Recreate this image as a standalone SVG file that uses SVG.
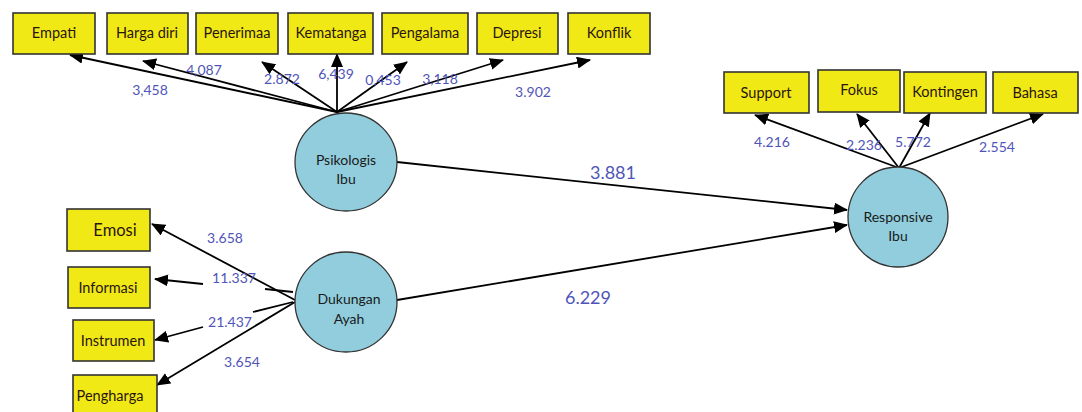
<svg xmlns="http://www.w3.org/2000/svg" width="1082" height="412" viewBox="0 0 1082 412">
<defs>
<marker id="ah" viewBox="0 0 14 12" refX="13" refY="6" markerWidth="14" markerHeight="12" markerUnits="userSpaceOnUse" orient="auto">
<path d="M0,0 L14,6 L0,12 Z" fill="#000"/>
</marker>
<style>
.box{fill:#F1E915;stroke:#333;stroke-width:1.6}
.circ{fill:#91CDDC;stroke:#333;stroke-width:1.3}
.bt{font-family:Lato,"Open Sans","Liberation Sans",sans-serif;font-size:14.5px;fill:#2a1510;text-anchor:middle}
.ct{font-family:Lato,"Open Sans","Liberation Sans",sans-serif;font-size:14px;fill:#1a1a1a;text-anchor:middle}
.lb{font-family:Lato,"Open Sans","Liberation Sans",sans-serif;font-size:14px;fill:#4F55B8;text-anchor:middle}
.lbb{font-family:Lato,"Open Sans","Liberation Sans",sans-serif;font-size:18px;fill:#4F55B8;text-anchor:middle}
.ln{stroke:#000;stroke-width:1.8;fill:none}
.arr{stroke:#000;stroke-width:1.8;fill:none;marker-end:url(#ah)}
</style>
</defs>
<rect width="1082" height="412" fill="#fff"/>
<g id="connectors">
<line class="arr" x1="337" y1="112" x2="70" y2="55"/>
<line class="arr" x1="337" y1="112" x2="143" y2="61"/>
<line class="arr" x1="337" y1="112" x2="262" y2="62"/>
<line class="arr" x1="337" y1="112" x2="337" y2="54"/>
<line class="arr" x1="337" y1="112" x2="407" y2="62"/>
<line class="arr" x1="337" y1="112" x2="503" y2="60"/>
<line class="arr" x1="337" y1="112" x2="590" y2="60"/>
<line class="arr" x1="899" y1="168" x2="755" y2="115"/>
<line class="arr" x1="899" y1="168" x2="857" y2="114"/>
<line class="arr" x1="899" y1="168" x2="930" y2="113"/>
<line class="arr" x1="899" y1="168" x2="1043" y2="114"/>
<line class="arr" x1="397" y1="162" x2="847" y2="210"/>
<line class="arr" x1="397" y1="300" x2="847" y2="225"/>
<line class="arr" x1="295" y1="300" x2="152" y2="224"/>
<line class="ln" x1="293" y1="292" x2="265" y2="289"/>
<line class="arr" x1="203" y1="284" x2="155" y2="279"/>
<line class="ln" x1="293" y1="302" x2="253" y2="312"/>
<line class="arr" x1="203" y1="327" x2="155" y2="340"/>
<line class="arr" x1="295" y1="302" x2="157" y2="385"/>
<text class="lb" x="150" y="95">3,458</text>
<text class="lb" x="204" y="75">4,087</text>
<text class="lb" x="282" y="84">2.872</text>
<text class="lb" x="336" y="79">6,439</text>
<text class="lb" x="383" y="85">0,453</text>
<text class="lb" x="440" y="84">3,118</text>
<text class="lb" x="533" y="97">3.902</text>
<text class="lb" x="772" y="147">4.216</text>
<text class="lb" x="864" y="150">2.236</text>
<text class="lb" x="913" y="147">5.772</text>
<text class="lb" x="997" y="152">2.554</text>
<text class="lbb" x="613" y="179">3.881</text>
<text class="lbb" x="588" y="304">6.229</text>
<text class="lb" x="225" y="243">3.658</text>
<text class="lb" x="234" y="283">11.337</text>
<text class="lb" x="230" y="327">21.437</text>
<text class="lb" x="242" y="367">3.654</text>
</g>
<g id="n-empati"><rect class="box" x="13" y="13" width="82" height="41"/><text class="bt" x="54" y="38">Empati</text></g>
<g id="n-harga"><rect class="box" x="107" y="13" width="81" height="41"/><text class="bt" x="147" y="38">Harga diri</text></g>
<g id="n-penerimaa"><rect class="box" x="196" y="13" width="82" height="41"/><text class="bt" x="237" y="38">Penerimaa</text></g>
<g id="n-kematanga"><rect class="box" x="288" y="13" width="85" height="41"/><text class="bt" x="331" y="38">Kematanga</text></g>
<g id="n-pengalama"><rect class="box" x="382" y="13" width="86" height="41"/><text class="bt" x="425" y="38">Pengalama</text></g>
<g id="n-depresi"><rect class="box" x="477" y="13" width="81" height="41"/><text class="bt" x="517" y="38">Depresi</text></g>
<g id="n-konflik"><rect class="box" x="568" y="13" width="82" height="41"/><text class="bt" x="609" y="38">Konflik</text></g>
<g id="n-support"><rect class="box" x="724" y="72" width="85" height="41"/><text class="bt" x="766" y="98">Support</text></g>
<g id="n-fokus"><rect class="box" x="818" y="70" width="82" height="42"/><text class="bt" x="859" y="95">Fokus</text></g>
<g id="n-kontingen"><rect class="box" x="904" y="72" width="82" height="41"/><text class="bt" x="945" y="97">Kontingen</text></g>
<g id="n-bahasa"><rect class="box" x="993" y="72" width="85" height="41"/><text class="bt" x="1035" y="98">Bahasa</text></g>
<g id="n-emosi"><rect class="box" x="67" y="209" width="83" height="42"/><text class="bt" x="115" y="236" style="font-size:16.5px">Emosi</text></g>
<g id="n-informasi"><rect class="box" x="68" y="267" width="82" height="41"/><text class="bt" x="108" y="293">Informasi</text></g>
<g id="n-instrumen"><rect class="box" x="73" y="320" width="81" height="41"/><text class="bt" x="113" y="346">Instrumen</text></g>
<g id="n-pengharga"><rect class="box" x="73" y="375" width="84" height="42"/><text class="bt" x="110" y="401">Pengharga</text></g>
<g id="n-psikologis"><ellipse class="circ" cx="346" cy="162" rx="51" ry="49"/><text class="ct" x="346" y="165">Psikologis</text><text class="ct" x="346" y="184">Ibu</text></g>
<g id="n-dukungan"><ellipse class="circ" cx="346" cy="302" rx="51" ry="50"/><text class="ct" x="349" y="304">Dukungan</text><text class="ct" x="349" y="324">Ayah</text></g>
<g id="n-responsive"><ellipse class="circ" cx="898" cy="217" rx="50" ry="50"/><text class="ct" x="898" y="222">Responsive</text><text class="ct" x="898" y="241">Ibu</text></g>
</svg>
